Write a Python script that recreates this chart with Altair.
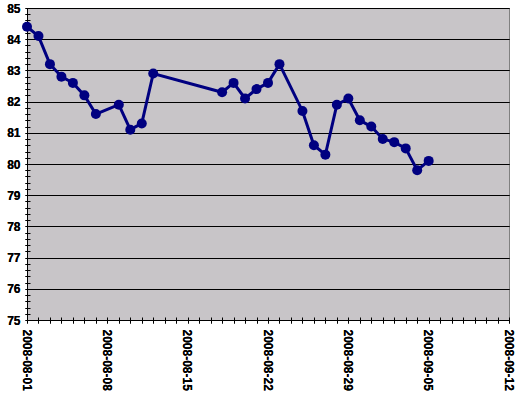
import altair as alt
import pandas as pd

dates = ["2008-08-01", "2008-08-02", "2008-08-03", "2008-08-04", "2008-08-05",
         "2008-08-06", "2008-08-07", "2008-08-09", "2008-08-10", "2008-08-11",
         "2008-08-12", "2008-08-18", "2008-08-19", "2008-08-20", "2008-08-21",
         "2008-08-22", "2008-08-23", "2008-08-25", "2008-08-26", "2008-08-27",
         "2008-08-28", "2008-08-29", "2008-08-30", "2008-08-31", "2008-09-01",
         "2008-09-02", "2008-09-03", "2008-09-04", "2008-09-05"]
values = [84.4, 84.1, 83.2, 82.8, 82.6, 82.2, 81.6, 81.9, 81.1, 81.3,
          82.9, 82.3, 82.6, 82.1, 82.4, 82.6, 83.2, 81.7, 80.6, 80.3,
          81.9, 82.1, 81.4, 81.2, 80.8, 80.7, 80.5, 79.8, 80.1]

x_start = "2008-08-01"
x_end = "2008-09-12"
y_min, y_max = 75, 85

df = pd.DataFrame({"date": dates, "value": values})

day_ms = 86400000
start_ms = int(pd.Timestamp(x_start, tz="UTC").timestamp() * 1000)
end_ms = int(pd.Timestamp(x_end, tz="UTC").timestamp() * 1000)
x_ticks = list(range(start_ms, end_ms + 1, day_ms))
y_ticks = [round(y_min + i * 0.2, 1) for i in range(int((y_max - y_min) / 0.2) + 1)]

x_scale = alt.Scale(type="utc", domain=[start_ms, end_ms], nice=False)
y_scale = alt.Scale(domain=[y_min, y_max], nice=False, zero=False)

x_enc = alt.X(
    "date:T",
    scale=x_scale,
    axis=alt.Axis(
        title=None,
        orient="bottom",
        values=x_ticks,
        labelExpr=f"((datum.value - {start_ms}) % {7 * day_ms} === 0) ? utcFormat(datum.value, '%Y-%m-%d') : ''",
        labelAngle=90,
        labelAlign="left",
        labelBaseline="middle",
        labelFont="Liberation Sans",
        labelFontWeight="bold",
        labelFontSize=12,
        labelColor="black",
        labelPadding=6,
        labelOffset=-1,
        labelOverlap=False,
        labelFlush=False,
        tickColor="black",
        tickSize=3,
        domainColor="black",
        grid=False,
    ),
)
y_enc = alt.Y(
    "value:Q",
    scale=y_scale,
    axis=alt.Axis(
        title=None,
        orient="left",
        values=y_ticks,
        labelExpr="(round(datum.value * 5) % 5 === 0) ? format(datum.value, 'd') : ''",
        labelFont="Liberation Sans",
        labelFontWeight="bold",
        labelFontSize=12,
        labelColor="black",
        labelPadding=5,
        labelOverlap=False,
        labelFlush=False,
        tickColor="black",
        tickSize=2,
        domainColor="black",
        grid=True,
        gridColor="black",
        gridWidth=1,
        gridOpacity=alt.condition("round(datum.value * 5) % 5 === 0", alt.value(1), alt.value(0)),
    ),
)

# inner halves of the crossing tick marks
x_enc_in = alt.X(
    "date:T",
    scale=x_scale,
    axis=alt.Axis(title=None, orient="bottom", values=x_ticks, labels=False, domain=False,
                  grid=False, tickColor="black", tickSize=3, offset=-3),
)
y_enc_in = alt.Y(
    "value:Q",
    scale=y_scale,
    axis=alt.Axis(title=None, orient="left", values=y_ticks, labels=False, domain=False,
                  grid=False, tickColor="black", tickSize=3, offset=-3),
)

line = alt.Chart(df).mark_line(color="#000080", strokeWidth=3).encode(x=x_enc, y=y_enc)
pts = alt.Chart(df).mark_point(filled=True, color="#000080", size=100, opacity=1, shape="circle").encode(x=x_enc, y=y_enc)
inner = alt.Chart(df).mark_point(opacity=0).encode(x=x_enc_in, y=y_enc_in)

chart = (
    alt.layer(inner, line, pts)
    .resolve_axis(x="independent", y="independent")
    .properties(
        width=482,
        height=312,
        autosize=alt.AutoSizeParams(type="none"),
        padding={"left": 27, "top": 8, "right": 6, "bottom": 76},
        background="white",
    )
    .configure_view(fill="#c8c5c8", stroke="#808080", strokeWidth=1)
)

chart.save("out.html", embed_options={"renderer": "svg", "actions": False})
